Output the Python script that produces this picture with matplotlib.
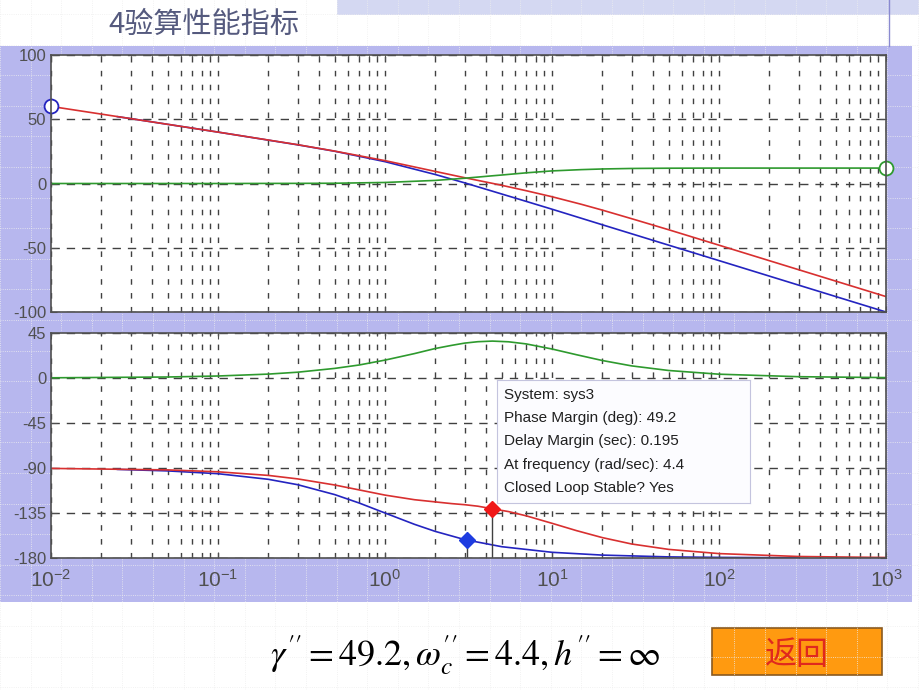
import numpy as np
import matplotlib.pyplot as plt
from matplotlib.patches import Rectangle
from matplotlib.ticker import LogLocator, NullFormatter, FixedLocator

plt.rcParams['font.family'] = ['Liberation Sans', 'DejaVu Sans']
plt.rcParams['mathtext.fontset'] = 'stix'
plt.rcParams['axes.unicode_minus'] = False

# ---- data --------------------------------------------------------------
# magnitude (dB)
w_mag = [0.01, 0.03, 0.1, 0.3, 0.5, 1, 2, 3, 4.4, 5, 7, 10, 15, 20, 30, 50, 100, 300, 1000]
mag_comp = [0.0, 0.0, 0.0, 0.1, 0.2, 0.8, 2.4, 4.1, 6.0, 6.6, 8.3, 9.8, 10.8, 11.3, 11.7, 11.9, 12.0, 12.0, 12.0]
mag_open = [60.0, 50.5, 40.0, 30.2, 25.2, 17.8, 9.4, 4.5, 0.1, -1.4, -5.6, -10.3, -16.2, -20.7, -27.4, -36.0,
            -48.0, -67.1, -88.0]
w_mag_sys = [0.025, 0.03, 0.1, 0.3, 0.5, 1, 2, 3, 4.4, 7, 10, 20, 50, 100, 300, 1000]
mag_sys = [52.0, 50.5, 40.0, 30.1, 25.1, 17.0, 7.0, 0.5, -6.0, -13.9, -20.0, -32.1, -48.0, -60.0, -79.1, -100.0]

# phase (deg)
w_ph = [0.01, 0.05, 0.1, 0.2, 0.3, 0.5, 0.7, 1, 1.5, 2, 2.5, 3, 3.6, 4.4, 5.5, 7, 10, 14, 20, 30, 50,
        100, 300, 1000]
ph_comp = [0.2, 1.0, 2.0, 3.9, 5.8, 9.6, 13.0, 17.9, 24.4, 29.5, 32.6, 34.9, 36.3, 36.9, 36.2, 34.1,
           29.0, 23.3, 17.5, 12.1, 7.5, 3.8, 1.3, 0.4]
ph_open = [-90.4, -91.9, -93.8, -97.4, -100.9, -107.0, -111.9, -117.1, -121.7, -123.9, -125.6, -126.7,
           -128.2, -130.8, -133.6, -137.8, -145.3, -152.6, -159.6, -166.0, -171.4, -175.6, -178.5, -179.5]
w_ph_sys = [0.025, 0.05, 0.1, 0.2, 0.3, 0.5, 0.7, 1, 1.5, 2, 3, 5, 10, 20, 50, 100, 300]
ph_sys = [-91.4, -92.9, -95.7, -101.3, -106.7, -116.6, -125.0, -135.0, -146.3, -153.4,
          -161.6, -168.7, -174.3, -177.1, -178.9, -179.4, -179.8]

# margin markers
pm_w, pm_ph = 4.4, -130.8
sys_w, sys_ph = 3.08, -162.0

info_lines = ['System: sys3', 'Phase Margin (deg): 49.2', 'Delay Margin (sec): 0.195',
              'At frequency (rad/sec): 4.4', 'Closed Loop Stable? Yes']

RED, BLUE, GREEN = '#d83030', '#2424c0', '#2e9a2e'
GRID = '#404040'
LAV = '#b7b7ee'

fig = plt.figure(figsize=(9.2, 6.9), dpi=100)
fig.patch.set_facecolor('white')

# slide background in pixel coordinates
bg = fig.add_axes([0, 0, 1, 1], zorder=-1)
bg.set_xlim(0, 920)
bg.set_ylim(690, 0)
bg.axis('off')
for gx in np.arange(0, 920, 30.6):
    bg.axvline(gx, color='#eeeeee', lw=0.6, ls=':')
for gy in np.arange(14, 690, 30.6):
    bg.axhline(gy, color='#eeeeee', lw=0.6, ls=':')
bg.add_patch(Rectangle((337, 0), 583, 15, fc='#d4d8f2', ec='none'))
bg.plot([889, 889], [0, 46], color='#8a8ad0', lw=1)
bg.add_patch(Rectangle((0, 46), 912, 556, fc=LAV, ec='none'))
bg.text(108, 25, '4验算性能指标', family=['Noto Sans CJK SC', 'DejaVu Sans'],
        fontsize=21, color='#555a7e', va='center')
bg.text(270, 655, r'$\gamma^{\prime\prime}=49.2,\omega_c^{\prime\prime}=4.4,h^{\prime\prime}=\infty$',
        fontsize=26, va='center', color='black')
bg.add_patch(Rectangle((712, 628), 170, 47, fc='#ff9a10', ec='#8a5a20', lw=1.2))
bg.text(797, 655, '返回', family=['Noto Sans CJK SC'], fontsize=23,
        color='#e0281e', ha='center', va='center')

W = 920.0
H = 690.0
ax1 = fig.add_axes([51 / W, 1 - 312 / H, 835 / W, 257 / H])
ax2 = fig.add_axes([51 / W, 1 - 558 / H, 835 / W, 225 / H])


def style(ax, yticks):
    ax.set_xscale('log')
    ax.set_xlim(0.01, 1000)
    ax.set_ylim(yticks[0], yticks[-1])
    ax.set_facecolor('white')
    ax.yaxis.set_major_locator(FixedLocator(yticks))
    ax.xaxis.set_major_locator(LogLocator(base=10, numticks=10))
    ax.xaxis.set_minor_locator(LogLocator(base=10, subs=np.arange(2, 10), numticks=10))
    ax.xaxis.set_minor_formatter(NullFormatter())
    ax.grid(True, which='both', axis='x', color=GRID, ls=(0, (4, 6)), lw=1)
    ax.grid(True, which='major', axis='y', color=GRID, ls=(0, (6, 5)), lw=1)
    ax.tick_params(which='both', direction='in', top=True, right=True,
                   color='#505050', labelcolor='#505050', labelsize=12)
    ax.tick_params(which='major', length=4)
    ax.tick_params(which='minor', length=2.5)
    for s in ax.spines.values():
        s.set_color('#505050')
        s.set_linewidth(1.2)


style(ax1, [-100, -50, 0, 50, 100])
style(ax2, [-180, -135, -90, -45, 0, 45])
ax1.set_xticklabels([])
ax2.set_xticks([0.01, 0.1, 1, 10, 100, 1000])
ax2.set_xticklabels([r'$\mathregular{10^{%d}}$' % p for p in range(-2, 4)], fontsize=15)
ax2.tick_params(axis='x', pad=8)

# magnitude
ax1.plot(w_mag_sys, mag_sys, color=BLUE, lw=1.2)
ax1.plot(w_mag, mag_open, color=RED, lw=1.2)
ax1.plot(w_mag, mag_comp, color=GREEN, lw=1.2)
ax1.plot(w_mag[0], mag_open[0], 'o', ms=10, mfc='white', mec=BLUE, mew=1.3, clip_on=False)
ax1.plot(w_mag[-1], mag_comp[-1], 'o', ms=10, mfc='white', mec=GREEN, mew=1.3, clip_on=False)

# phase
ax2.plot(w_ph, ph_comp, color=GREEN, lw=1.2)
ax2.plot(w_ph_sys, ph_sys, color=BLUE, lw=1.2)
ax2.plot(w_ph, ph_open, color=RED, lw=1.2)
ax2.vlines([sys_w, pm_w], -180, [sys_ph, pm_ph], color='#404040', lw=1)
ax2.plot(sys_w, sys_ph, 'D', ms=8, color='#1e3ce0')
ax2.plot(pm_w, pm_ph, 'D', ms=8, color='#f01818')

# data tip box
tip = fig.add_axes([497 / W, 1 - 503 / H, 253 / W, 123 / H], zorder=5)
tip.set_xticks([])
tip.set_yticks([])
tip.set_facecolor('#fcfcff')
for s in tip.spines.values():
    s.set_color('#c4c4de')
for i, line in enumerate(info_lines):
    tip.text(0.028, 0.88 - i * 0.19, line, transform=tip.transAxes,
             fontsize=11, color='#202020', va='center')

fig.savefig('out.png', dpi=100)
